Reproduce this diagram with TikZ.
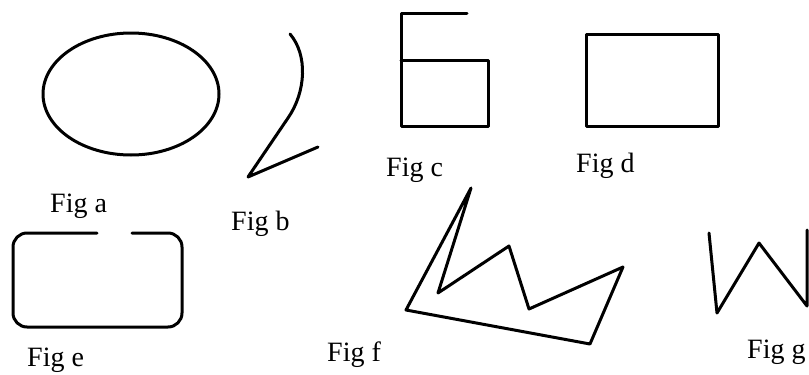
\documentclass[tikz,border=0pt]{standalone}
\usepackage{fontspec}
\setmainfont{Liberation Serif}
\begin{document}
\begin{tikzpicture}[x=1pt,y=-1pt,
  shape line/.style={line width=3pt, line join=round, line cap=round},
  figlabel/.style={anchor=base west, inner sep=0pt, font=\fontsize{28}{30}\selectfont}]
\useasboundingbox[fill=white] (0,0) rectangle (809,375);
% Fig a
\draw[shape line] (131,94) ellipse [x radius=88, y radius=61];
% Fig b
\draw[shape line] (290,34) .. controls (308,55) and (306,92) .. (288,118) -- (248,177) -- (318,147);
% Fig c
\draw[shape line] (467,13) -- (401,13) -- (401,126) -- (488,126) -- (488,60) -- (401,60);
% Fig d
\draw[shape line] (586,34) rectangle (718,126);
% Fig e
\draw[shape line, rounded corners=14pt] (97,233) -- (13,233) -- (13,327) -- (182,327) -- (182,233) -- (132,233);
% Fig f
\draw[shape line] (406,310) -- (471,188) -- (438,293) -- (509,246) -- (529,309) -- (623,267) -- (590,344) -- cycle;
% Fig g
\draw[shape line] (709,233) -- (717,313) -- (759,243) -- (807,306) -- (807,230);
% labels
\node[figlabel] (la) at (50,212) {Fig a};
\node[figlabel] (lb) at (231,230) {Fig b};
\node[figlabel] (lc) at (386,176) {Fig c};
\node[figlabel] (ld) at (576,172) {Fig d};
\node[figlabel] (le) at (27,366) {Fig e};
\node[figlabel] (lf) at (327,361) {Fig f};
\node[figlabel] (lg) at (747,358) {Fig g};
\end{tikzpicture}
\end{document}
